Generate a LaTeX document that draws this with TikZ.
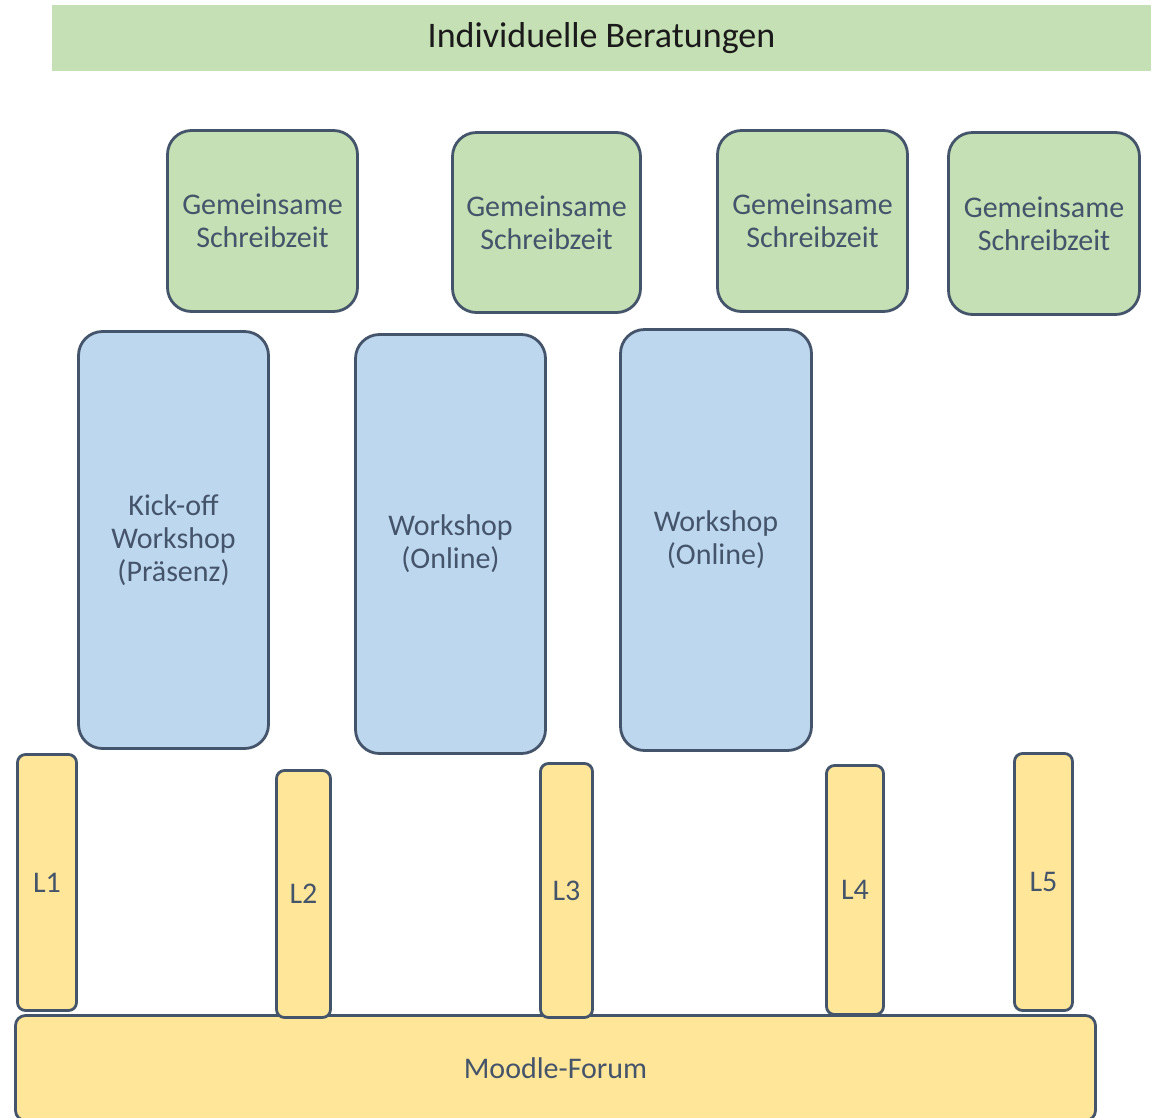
\documentclass[tikz,border=0pt]{standalone}
\usepackage{fontspec}
\setmainfont{Carlito}
\definecolor{bordc}{HTML}{44546A}
\definecolor{greenf}{HTML}{C5E0B4}
\definecolor{bluef}{HTML}{BDD7EE}
\definecolor{yellowf}{HTML}{FFE699}
\definecolor{titletext}{HTML}{1A1A1A}
\tikzset{
  basebox/.style={draw=bordc, line width=2.8pt, inner sep=0pt, align=center,
    text=bordc, font=\fontsize{30}{33}\selectfont},
  greenbox/.style={basebox, fill=greenf, rounded corners=24pt},
  bluebox/.style={basebox, fill=bluef, rounded corners=24pt},
  lbar/.style={basebox, fill=yellowf, rounded corners=8pt},
  forumbox/.style={basebox, fill=yellowf, rounded corners=10pt},
  titlebar/.style={fill=greenf, inner sep=0pt, text=titletext,
    font=\fontsize{36}{40}\selectfont}
}
\begin{document}
\begin{tikzpicture}[x=1pt,y=-1pt]
\useasboundingbox (0,0) rectangle (1158,1117);
\clip (0,0) rectangle (1158,1117);
% title
\node[titlebar, minimum width=1099pt, minimum height=66pt] (title) at (601.5,38) {Individuelle Beratungen};
% green boxes
\node[greenbox, minimum width=190pt, minimum height=181pt] (g1) at (262.5,221) {Gemeinsame\\Schreibzeit};
\node[greenbox, minimum width=188pt, minimum height=180pt] (g2) at (546.5,222.5) {Gemeinsame\\Schreibzeit};
\node[greenbox, minimum width=190pt, minimum height=181pt] (g3) at (812.5,221) {Gemeinsame\\Schreibzeit};
\node[greenbox, minimum width=191pt, minimum height=182pt] (g4) at (1044,223.5) {Gemeinsame\\Schreibzeit};
% blue boxes
\node[bluebox, minimum width=190pt, minimum height=417pt] (b1) at (173.5,540) {Kick-off\\Workshop\\(Präsenz)};
\node[bluebox, minimum width=190pt, minimum height=419pt] (b2) at (450.5,544) {Workshop\\(Online)};
\node[bluebox, minimum width=191pt, minimum height=421pt] (b3) at (716,540) {Workshop\\(Online)};
% forum
\node[forumbox, minimum width=1080pt, minimum height=105pt] (forum) at (555.5,1068) {Moodle-Forum};
% L bars
\node[lbar, minimum width=59pt, minimum height=256pt] (l1) at (47,882.5) {L1};
\node[lbar, minimum width=54pt, minimum height=247pt] (l2) at (303.5,894) {L2};
\node[lbar, minimum width=52pt, minimum height=254pt] (l3) at (566.5,890.5) {L3};
\node[lbar, minimum width=57pt, minimum height=249pt] (l4) at (855,890) {L4};
\node[lbar, minimum width=58pt, minimum height=257pt] (l5) at (1043.5,882) {L5};
\end{tikzpicture}
\end{document}
